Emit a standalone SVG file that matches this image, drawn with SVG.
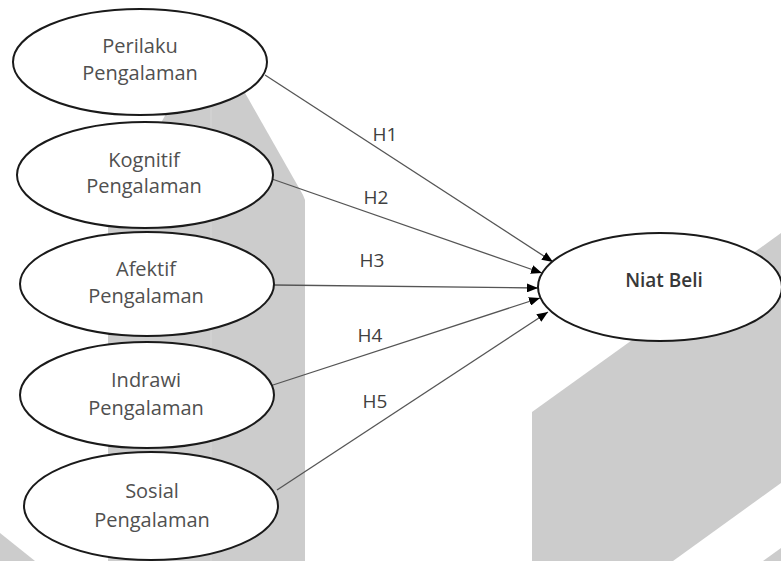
<svg xmlns="http://www.w3.org/2000/svg" width="781" height="561" viewBox="0 0 781 561">
<style>
.bg{fill:#cccccc;stroke:none}
.node ellipse{fill:#ffffff;stroke:#1a1a1a;stroke-width:2}
.node text,.lbl{font-family:"Open Sans","Liberation Sans",sans-serif;font-size:20px;fill:#505050;text-anchor:middle}
.lbl{font-size:19px;fill:#404040}
#niat-beli text{font-size:19px;font-weight:600;fill:#383838}
.edge{stroke:#555555;stroke-width:1.3;fill:none;marker-end:url(#arr)}
</style>
<defs>
<marker id="arr" markerWidth="11" markerHeight="9" refX="11" refY="4.5" orient="auto" markerUnits="userSpaceOnUse">
<path d="M0,0 L11,4.5 L0,9 Z" fill="#000000"/>
</marker>
</defs>
<rect width="781" height="561" fill="#ffffff"/>
<g id="background">
<polygon class="bg" points="211,33 303,195 305,200 305,561 108,561 108,218"/>
<line x1="211" y1="33" x2="211" y2="561" stroke="#d6d6d6" stroke-width="1"/>
<polygon class="bg" points="0,533 35,561 0,561"/>
<polygon class="bg" points="532,412 781,233 781,483 673,561 532,561"/>
<polygon class="bg" points="781,548 781,561 763,561"/>
</g>
<g id="connectors">
<line class="edge" x1="265" y1="75" x2="553" y2="262"/>
<line class="edge" x1="272" y1="179" x2="542" y2="273"/>
<line class="edge" x1="274" y1="285" x2="538" y2="288"/>
<line class="edge" x1="273" y1="385" x2="540" y2="298"/>
<line class="edge" x1="277" y1="490" x2="548" y2="312"/>
<text class="lbl" x="385" y="141">H1</text>
<text class="lbl" x="376" y="204">H2</text>
<text class="lbl" x="372" y="267">H3</text>
<text class="lbl" x="370" y="342">H4</text>
<text class="lbl" x="375" y="408">H5</text>
</g>
<g id="perilaku" class="node">
<ellipse cx="140" cy="62" rx="127" ry="53"/>
<text x="140" y="53">Perilaku</text>
<text x="140" y="80">Pengalaman</text>
</g>
<g id="kognitif" class="node">
<ellipse cx="145" cy="175" rx="128" ry="53"/>
<text x="144" y="167">Kognitif</text>
<text x="144" y="193">Pengalaman</text>
</g>
<g id="afektif" class="node">
<ellipse cx="147" cy="284" rx="127" ry="52"/>
<text x="146" y="276">Afektif</text>
<text x="146" y="303">Pengalaman</text>
</g>
<g id="indrawi" class="node">
<ellipse cx="147" cy="395" rx="127" ry="53"/>
<text x="146" y="387">Indrawi</text>
<text x="146" y="415">Pengalaman</text>
</g>
<g id="sosial" class="node">
<ellipse cx="151" cy="506" rx="127" ry="54"/>
<text x="152" y="498">Sosial</text>
<text x="152" y="527">Pengalaman</text>
</g>
<g id="niat-beli" class="node">
<ellipse cx="660" cy="287" rx="122" ry="54"/>
<text x="664" y="287">Niat Beli</text>
</g>
</svg>
